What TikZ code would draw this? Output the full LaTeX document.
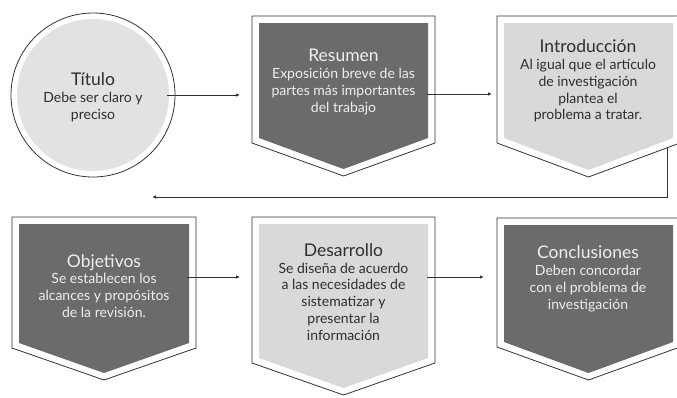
\documentclass[tikz,border=0pt]{standalone}
\usepackage{fontspec}
\setmainfont{Lato}
\usetikzlibrary{arrows.meta}
\definecolor{darkfill}{HTML}{6B6B6B}
\definecolor{lightfill}{HTML}{D9D9D9}
\definecolor{circfill}{HTML}{E2E2E2}
\definecolor{darktext}{HTML}{2E2E2E}
\definecolor{lighttext}{HTML}{EEEEEE}
\definecolor{linecol}{HTML}{333333}
\newcommand{\chev}[7]{% name, L, R, T, S, Tip, fill
  \pgfmathsetmacro{\cx}{(#2+#3)/2}
  \draw[line width=0.8pt, draw=linecol, fill=white] (#2,#4) -- (#3,#4) -- (#3,#5) -- (\cx,#6) -- (#2,#5) -- cycle;
  \fill[#7] (#2+7,#4+7) -- (#3-7,#4+7) -- (#3-7,#5-5) -- (\cx,#6-7) -- (#2+7,#5-5) -- cycle;
}
\tikzset{
  conn/.style={line width=0.8pt, draw=linecol, -{Latex[length=4pt,width=3.5pt]}},
  lbl/.style={align=center, inner sep=0pt, font=\fontsize{14}{16.8}\selectfont},
  darklbl/.style={lbl, text=lighttext},
  lightlbl/.style={lbl, text=darktext}
}
\newcommand{\ttl}[1]{{\fontsize{17.5}{19}\selectfont #1}}
\begin{document}
\begin{tikzpicture}[x=1pt,y=-1pt]
\useasboundingbox (0,0) rectangle (677,397);
% Titulo circle
\draw[line width=0.8pt, draw=linecol, fill=white] (93,95) circle[radius=82];
\fill[circfill] (93,95) circle[radius=76];
\node[lightlbl] (titulo) at (93,97) {\ttl{Título}\\Debe ser claro y\\preciso};
% Row 1
\chev{resumen}{252}{435}{16}{143}{176}{darkfill}
\node[darklbl] (resumen) at (343.5,82) {\ttl{Resumen}\\Exposición breve de las\\partes más importantes\\del trabajo};
\chev{intro}{497}{680}{16}{143}{177}{lightfill}
\node[lightlbl] (intro) at (588,81) {\ttl{Introducción}\\Al igual que el artículo\\de investigación\\plantea el\\problema a tratar.};
% Row 2
\chev{obj}{12}{196}{217}{348}{380}{darkfill}
\node[darklbl] (obj) at (104,286) {\ttl{Objetivos}\\Se establecen los\\alcances y propósitos\\de la revisión.};
\chev{des}{252}{435}{217}{363}{395}{lightfill}
\node[lightlbl] (des) at (343.5,292) {\ttl{Desarrollo}\\Se diseña de acuerdo\\a las necesidades de\\sistematizar y\\presentar la\\información};
\chev{conc}{497}{680}{218}{347}{380}{darkfill}
\node[darklbl] (conc) at (588,279) {\ttl{Conclusiones}\\Deben concordar\\con el problema de\\investigación};
% connectors
\coordinate (a1s) at (167,95);
\coordinate (a1e) at (240,95);
\coordinate (a2s) at (427,94);
\coordinate (a2e) at (492,94);
\coordinate (l1) at (667,147);
\coordinate (l2) at (667,197);
\coordinate (l3) at (152,197);
\coordinate (a3s) at (187,277);
\coordinate (a3e) at (240,277);
\coordinate (a4s) at (427,277);
\coordinate (a4e) at (484,277);
\draw[conn] (a1s) -- (a1e);
\draw[conn] (a2s) -- (a2e);
\draw[conn] (l1) -- (l2) -- (l3);
\draw[conn] (a3s) -- (a3e);
\draw[conn] (a4s) -- (a4e);
\end{tikzpicture}
\end{document}
